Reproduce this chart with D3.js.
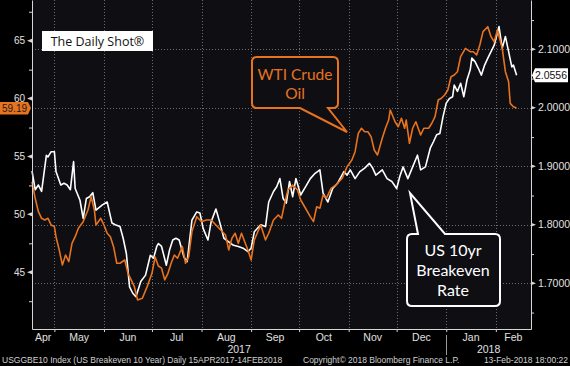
<!DOCTYPE html>
<html>
<head>
<meta charset="utf-8">
<script src="https://cdn.jsdelivr.net/npm/d3@7"></script>
<style>
  html, body { margin: 0; padding: 0; background: #000; }
  svg { display: block; }
</style>
</head>
<body>
<div id="chart"></div>
<script>
// day offsets are counted from 17 Apr 2017
const startDate = new Date(2017, 3, 17);
const endDate = new Date(2018, 1, 23);

const oilDays = [
  0, 2, 4, 6, 8, 10, 12, 14, 15, 17,
  19, 21, 23, 25, 27, 29, 32, 35, 37, 39,
  40, 43, 45, 47, 49, 51, 53, 55, 58, 60,
  62, 64, 66, 69, 72, 75, 77, 79, 81, 83,
  85, 87, 89, 91, 94, 96, 98, 100, 103, 106,
  109, 112, 115, 118, 121, 123, 125, 127, 129, 131,
  133, 135, 137, 139, 143, 146, 148, 151, 154, 156,
  158, 160, 163, 166, 168, 171, 174, 176, 178, 180,
  182, 184, 187, 190, 194, 197, 200, 202, 204, 206,
  208, 210, 212, 214, 216, 219, 221, 223, 224, 227,
  229, 231, 233, 234, 236, 238, 240, 243, 245, 248,
  250, 252, 254, 256, 258, 260, 262, 264, 266, 268,
  271, 274, 276, 278, 280, 282, 285, 287, 289, 291,
  294, 296, 298, 299, 301, 303
];
const oilValues = [
  52.80, 51.39, 50.23, 49.66, 49.52, 49.66, 49.08, 48.94, 48.07, 46.93,
  45.63, 46.49, 45.92, 47.50, 48.07, 48.80, 49.37, 50.38, 51.53, 50.38,
  49.08, 49.66, 49.08, 48.37, 48.07, 47.21, 45.78, 45.78, 46.06, 44.91,
  44.34, 43.76, 42.61, 42.75, 43.76, 44.91, 46.32, 45.54, 45.35, 44.34,
  44.91, 45.78, 46.49, 46.21, 47.21, 45.78, 46.35, 48.51, 49.80, 49.37,
  49.52, 49.52, 49.08, 48.65, 48.22, 46.93, 47.94, 48.37, 47.50, 48.37,
  47.64, 46.93, 46.06, 47.79, 49.08, 47.79, 48.37, 49.52, 49.95, 49.66,
  50.98, 52.11, 52.54, 52.11, 51.24, 50.53, 49.80, 49.37, 50.66, 50.53,
  51.68, 51.39, 52.25, 52.54, 53.12, 54.12, 54.70, 55.41, 57.00, 57.44,
  57.14, 57.14, 56.71, 55.56, 55.13, 56.57, 57.44, 58.15, 59.02, 58.00,
  57.57, 58.30, 57.44, 58.15, 56.14, 57.44, 58.00, 56.86, 57.44, 57.44,
  57.87, 58.44, 59.88, 60.03, 60.31, 60.74, 61.89, 62.04, 62.32, 63.62,
  64.34, 64.05, 64.05, 63.77, 64.63, 65.78, 66.21, 65.35, 64.91, 65.92,
  64.34, 62.32, 61.46, 59.59, 59.30, 59.19
];

const beDays = [
  0, 2, 4, 6, 9, 10, 12, 14, 15, 18,
  20, 22, 24, 26, 27, 30, 32, 34, 36, 38,
  40, 44, 47, 50, 52, 55, 57, 59, 61, 63,
  65, 68, 71, 74, 76, 78, 79, 81, 84, 86,
  88, 90, 92, 95, 97, 100, 103, 105, 107, 110,
  112, 115, 117, 120, 123, 126, 129, 132, 135, 137,
  139, 143, 146, 148, 151, 153, 155, 157, 159, 161,
  163, 165, 168, 171, 174, 177, 180, 182, 185, 188,
  191, 195, 197, 199, 202, 205, 208, 211, 213, 215,
  219, 222, 225, 228, 230, 232, 235, 238, 241, 243,
  246, 249, 251, 253, 255, 257, 259, 261, 263, 264,
  266, 268, 270, 272, 274, 275, 277, 279, 281, 283,
  285, 287, 289, 292, 294, 296, 298, 300, 301, 303
];
const beValues = [
  1.892, 1.860, 1.868, 1.857, 1.919, 1.916, 1.925, 1.925, 1.891, 1.868,
  1.871, 1.868, 1.860, 1.908, 1.862, 1.842, 1.811, 1.845, 1.848, 1.855,
  1.825, 1.834, 1.839, 1.803, 1.800, 1.797, 1.777, 1.751, 1.694, 1.683,
  1.677, 1.703, 1.714, 1.748, 1.743, 1.763, 1.768, 1.763, 1.731, 1.757,
  1.774, 1.777, 1.774, 1.745, 1.737, 1.808, 1.822, 1.820, 1.794, 1.774,
  1.805, 1.827, 1.808, 1.777, 1.771, 1.765, 1.763, 1.760, 1.754, 1.760,
  1.788, 1.800, 1.797, 1.839, 1.857, 1.865, 1.879, 1.845, 1.837, 1.874,
  1.848, 1.879, 1.851, 1.865, 1.879, 1.888, 1.894, 1.854, 1.839, 1.862,
  1.871, 1.891, 1.885, 1.894, 1.879, 1.891, 1.897, 1.905, 1.897, 1.885,
  1.894, 1.879, 1.874, 1.862, 1.883, 1.899, 1.879, 1.899, 1.919, 1.894,
  1.899, 1.931, 1.942, 1.954, 1.956, 1.985, 2.008, 2.016, 2.019, 2.039,
  2.028, 2.042, 2.019, 2.048, 2.065, 2.085, 2.079, 2.068, 2.056, 2.073,
  2.085, 2.096, 2.107, 2.139, 2.102, 2.122, 2.096, 2.070, 2.073, 2.0556
];

const oilTicks = [45, 50, 55, 60, 65];
const oilMinorTicks = [42.5, 47.5, 52.5, 57.5, 62.5, 67.5];
const beTicks = [1.7, 1.8, 1.9, 2.0, 2.1];
const beMinorTicks = [1.65, 1.75, 1.85, 1.95, 2.05, 2.15];
const monthNames = ['Apr', 'May', 'Jun', 'Jul', 'Aug', 'Sep', 'Oct', 'Nov', 'Dec', 'Jan', 'Feb'];
const yearNames = ['2017', '2018'];
const lastOil = 59.19;
const lastBe = 2.0556;

const width = 570, height = 366;
const margin = { top: 0, right: 39, bottom: 37, left: 32 };
const plotRight = width - margin.right;
const plotBottom = height - margin.bottom;
const orange = '#e8731f';
const axisColor = '#d6d6d6';
const labelFont = 'Liberation Sans, Arial, sans-serif';

const svg = d3.select('#chart').append('svg')
  .attr('width', width)
  .attr('height', height);

svg.append('rect').attr('width', width).attr('height', height).attr('fill', '#000');
svg.append('rect')
  .attr('x', margin.left).attr('y', margin.top)
  .attr('width', plotRight - margin.left).attr('height', plotBottom - margin.top)
  .attr('fill', '#0e0e13');

const x = d3.scaleTime()
  .domain([startDate, endDate])
  .range([margin.left, plotRight]);

const yOil = d3.scaleLinear()
  .domain([40.10, 68.515])
  .range([plotBottom, margin.top]);

const yBe = d3.scaleLinear()
  .domain([1.6219, 2.1843])
  .range([plotBottom, margin.top]);

const monthStarts = d3.timeMonth.range(new Date(2017, 4, 1), new Date(2018, 1, 2));
const bounds = [startDate, ...monthStarts, endDate];

// grid
const grid = svg.append('g')
  .attr('stroke', '#6a6a70')
  .attr('stroke-width', 1)
  .attr('stroke-dasharray', '1,2');

grid.selectAll('.vgrid')
  .data(monthStarts)
  .enter()
  .append('line')
  .attr('x1', d => Math.round(x(d)) + 0.5)
  .attr('x2', d => Math.round(x(d)) + 0.5)
  .attr('y1', margin.top)
  .attr('y2', plotBottom);

grid.selectAll('.hgrid')
  .data(beTicks)
  .enter()
  .append('line')
  .attr('x1', margin.left)
  .attr('x2', plotRight)
  .attr('y1', d => Math.round(yBe(d)) + 0.5)
  .attr('y2', d => Math.round(yBe(d)) + 0.5);

// series
const lineOil = d3.line()
  .x((d, i) => x(d3.timeDay.offset(startDate, oilDays[i])))
  .y(d => yOil(d));

const lineBe = d3.line()
  .x((d, i) => x(d3.timeDay.offset(startDate, beDays[i])))
  .y(d => yBe(d));

svg.append('path')
  .datum(beValues)
  .attr('fill', 'none')
  .attr('stroke', '#ffffff')
  .attr('stroke-width', 1.6)
  .attr('stroke-linejoin', 'round')
  .attr('d', lineBe);

svg.append('path')
  .datum(oilValues)
  .attr('fill', 'none')
  .attr('stroke', orange)
  .attr('stroke-width', 1.6)
  .attr('stroke-linejoin', 'round')
  .attr('d', lineOil);

// axes lines
svg.append('g')
  .attr('transform', `translate(0,${plotBottom})`)
  .call(d3.axisBottom(x).tickValues(monthStarts).tickFormat('').tickSize(3).tickSizeOuter(0))
  .call(g => g.selectAll('.domain, .tick line').attr('stroke', axisColor));

svg.append('g')
  .attr('transform', `translate(${margin.left},0)`)
  .call(d3.axisLeft(yOil).tickValues(oilMinorTicks).tickFormat('').tickSize(3).tickSizeOuter(0))
  .call(g => g.selectAll('.domain, .tick line').attr('stroke', axisColor));

svg.append('g')
  .attr('transform', `translate(${plotRight},0)`)
  .call(d3.axisRight(yBe).tickValues(beMinorTicks).tickFormat('').tickSize(3).tickSizeOuter(0))
  .call(g => g.selectAll('.domain, .tick line').attr('stroke', axisColor));

// major ticks as small wedges with labels
svg.selectAll('.oilTick')
  .data(oilTicks)
  .enter()
  .append('path')
  .attr('d', d => `M${margin.left},${yOil(d) - 2}L${margin.left - 5},${yOil(d)}L${margin.left},${yOil(d) + 2}Z`)
  .attr('fill', axisColor);

svg.selectAll('.oilLabel')
  .data(oilTicks)
  .enter()
  .append('text')
  .attr('x', margin.left - 7)
  .attr('y', d => yOil(d) + 3.5)
  .attr('text-anchor', 'end')
  .attr('font-family', labelFont)
  .attr('font-size', '10px')
  .attr('fill', '#e0e0e0')
  .text(d => d);

svg.selectAll('.beTick')
  .data(beTicks)
  .enter()
  .append('path')
  .attr('d', d => `M${plotRight},${yBe(d) - 2}L${plotRight + 5},${yBe(d)}L${plotRight},${yBe(d) + 2}Z`)
  .attr('fill', axisColor);

svg.selectAll('.beLabel')
  .data(beTicks)
  .enter()
  .append('text')
  .attr('x', plotRight + 7)
  .attr('y', d => yBe(d) + 3.5)
  .attr('font-family', labelFont)
  .attr('font-size', '10.5px')
  .attr('fill', '#e0e0e0')
  .text(d => d3.format('.4f')(d));

// month and year labels
svg.selectAll('.month')
  .data(monthNames)
  .enter()
  .append('text')
  .attr('x', (d, i) => (x(bounds[i]) + x(bounds[i + 1])) / 2)
  .attr('y', plotBottom + 12)
  .attr('text-anchor', 'middle')
  .attr('font-family', labelFont)
  .attr('font-size', '10.5px')
  .attr('fill', '#e0e0e0')
  .text(d => d);

const yearBounds = [startDate, new Date(2018, 0, 1), endDate];
svg.selectAll('.year')
  .data(yearNames)
  .enter()
  .append('text')
  .attr('x', (d, i) => (x(yearBounds[i]) + x(yearBounds[i + 1])) / 2)
  .attr('y', plotBottom + 24)
  .attr('text-anchor', 'middle')
  .attr('font-family', labelFont)
  .attr('font-size', '10.5px')
  .attr('fill', '#e0e0e0')
  .text(d => d);

svg.append('line')
  .attr('x1', Math.round(x(yearBounds[1])) + 0.5)
  .attr('x2', Math.round(x(yearBounds[1])) + 0.5)
  .attr('y1', plotBottom + 6)
  .attr('y2', plotBottom + 26)
  .attr('stroke', '#9a9a9a');

// last value flags
const yo = yOil(lastOil);
svg.append('path')
  .attr('d', `M0,${yo - 6}H28L31,${yo}L28,${yo + 6.5}H0Z`)
  .attr('fill', orange);
svg.append('text')
  .attr('x', 14.5).attr('y', yo + 3.7)
  .attr('text-anchor', 'middle')
  .attr('font-family', labelFont).attr('font-size', '10px')
  .attr('fill', '#1a1a1a')
  .text(d3.format('.2f')(lastOil));

const yb = yBe(lastBe);
svg.append('path')
  .attr('d', `M${plotRight + 1},${yb}L${plotRight + 4},${yb - 7}H568V${yb + 7}H${plotRight + 4}Z`)
  .attr('fill', '#ffffff');
svg.append('text')
  .attr('x', 551).attr('y', yb + 3.7)
  .attr('text-anchor', 'middle')
  .attr('font-family', labelFont).attr('font-size', '10.5px')
  .attr('fill', '#111')
  .text(d3.format('.4f')(lastBe));

// title box
svg.append('rect')
  .attr('x', 42).attr('y', 31).attr('width', 111).attr('height', 20)
  .attr('fill', '#ffffff');
svg.append('text')
  .attr('x', 97.5).attr('y', 46)
  .attr('text-anchor', 'middle')
  .attr('font-family', 'Open Sans, sans-serif')
  .attr('font-size', '12.5px')
  .attr('fill', '#111')
  .text('The Daily Shot®');

// callouts
svg.append('path')
  .attr('d', 'M257,57H333Q338,57 338,62V103Q338,108 333,108H328L347,132L300,108H257Q252,108 252,103V62Q252,57 257,57Z')
  .attr('fill', '#0e0e13')
  .attr('stroke', orange)
  .attr('stroke-width', 2);

svg.append('text')
  .attr('text-anchor', 'middle')
  .attr('font-family', 'Lato, sans-serif')
  .attr('font-size', '15.5px')
  .attr('fill', orange)
  .selectAll('tspan')
  .data(['WTI Crude', 'Oil'])
  .enter()
  .append('tspan')
  .attr('x', 295)
  .attr('y', (d, i) => 80 + i * 19)
  .text(d => d);

svg.append('path')
  .attr('d', 'M412,234H418L410,193L445,234H495Q500,234 500,239V301Q500,306 495,306H412Q407,306 407,301V239Q407,234 412,234Z')
  .attr('fill', '#0e0e13')
  .attr('stroke', '#ffffff')
  .attr('stroke-width', 2);

svg.append('text')
  .attr('text-anchor', 'middle')
  .attr('font-family', 'Lato, sans-serif')
  .attr('font-size', '16px')
  .attr('fill', '#ffffff')
  .selectAll('tspan')
  .data(['US 10yr', 'Breakeven', 'Rate'])
  .enter()
  .append('tspan')
  .attr('x', 453)
  .attr('y', (d, i) => 256 + i * 20)
  .text(d => d);

// footer
const footer = svg.append('g')
  .attr('font-family', labelFont)
  .attr('font-size', '8.5px')
  .attr('fill', '#d0d0d0');
footer.append('text').attr('x', 2).attr('y', 363)
  .text('USGGBE10 Index (US Breakeven 10 Year)  Daily 15APR2017-14FEB2018');
footer.append('text').attr('x', 303).attr('y', 363)
  .text('Copyright© 2018 Bloomberg Finance L.P.');
footer.append('text').attr('x', 568).attr('y', 363).attr('text-anchor', 'end')
  .text('13-Feb-2018 18:00:22');
</script>
</body>
</html>
